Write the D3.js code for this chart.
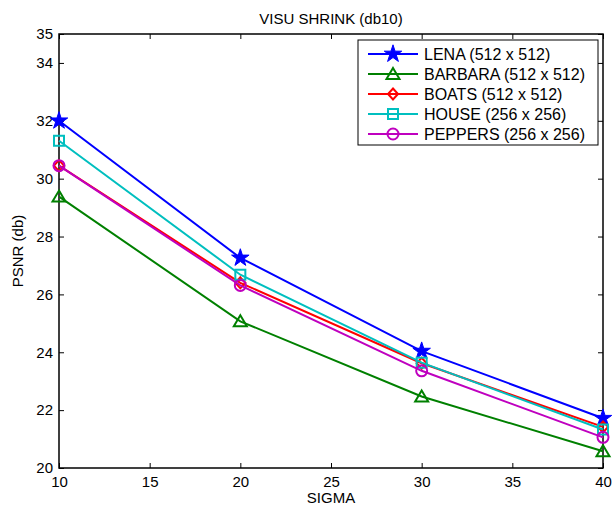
<!DOCTYPE html>
<html>
<head>
<meta charset="utf-8">
<script src="https://cdn.jsdelivr.net/npm/d3@7"></script>
<style>
  body { margin: 0; background: #fff; }
  svg { font-family: "Liberation Sans", Arial, sans-serif; }
</style>
</head>
<body>
<div id="chart"></div>
<script>
// data
const sigma = [10, 20, 30, 40];
const lena = [32.0, 27.26, 24.04, 21.72];
const barbara = [29.38, 25.07, 22.47, 20.58];
const boats = [30.45, 26.40, 23.62, 21.42];
const house = [31.31, 26.68, 23.64, 21.33];
const peppers = [30.45, 26.31, 23.36, 21.06];
const seriesNames = ["LENA (512 x 512)", "BARBARA (512 x 512)", "BOATS (512 x 512)", "HOUSE (256 x 256)", "PEPPERS (256 x 256)"];
const xTicks = [10, 15, 20, 25, 30, 35, 40];
const yTicks = [20, 22, 24, 26, 28, 30, 32, 34, 35];

const series = [
  { name: seriesNames[0], values: lena, color: "#0000ff", marker: "star" },
  { name: seriesNames[1], values: barbara, color: "#008000", marker: "triangle" },
  { name: seriesNames[2], values: boats, color: "#ff0000", marker: "diamond" },
  { name: seriesNames[3], values: house, color: "#00bfbf", marker: "square" },
  { name: seriesNames[4], values: peppers, color: "#bf00bf", marker: "circle" }
];

const width = 612, height = 506;
const plotLeft = 59, plotRight = 603, plotTop = 34, plotBottom = 468;
const fontSize = "15px";

const svg = d3.select("#chart").append("svg")
  .attr("width", width)
  .attr("height", height);

const x = d3.scaleLinear().domain([10, 40]).range([plotLeft, plotRight]);
const y = d3.scaleLinear().domain([20, 35]).range([plotBottom, plotTop]);

// inward ticks on all four sides, matlab style
const tickLen = 5;
svg.append("g")
  .attr("transform", "translate(0," + plotBottom + ")")
  .call(d3.axisBottom(x).tickValues(xTicks).tickSize(-tickLen).tickPadding(8).tickSizeOuter(0))
  .call(g => g.select(".domain").remove());
svg.append("g")
  .attr("transform", "translate(0," + plotTop + ")")
  .call(d3.axisTop(x).tickValues(xTicks).tickSize(-tickLen).tickFormat("").tickSizeOuter(0))
  .call(g => g.select(".domain").remove());
svg.append("g")
  .attr("transform", "translate(" + plotLeft + ",0)")
  .call(d3.axisLeft(y).tickValues(yTicks).tickSize(-tickLen).tickPadding(6).tickSizeOuter(0))
  .call(g => g.select(".domain").remove());
svg.append("g")
  .attr("transform", "translate(" + plotRight + ",0)")
  .call(d3.axisRight(y).tickValues(yTicks).tickSize(-tickLen).tickFormat("").tickSizeOuter(0))
  .call(g => g.select(".domain").remove());

svg.selectAll(".tick text").attr("font-size", fontSize).attr("fill", "#000")
  .style("font-family", "Liberation Sans, Arial, sans-serif");
svg.selectAll(".tick line").attr("stroke", "#000");

svg.append("rect")
  .attr("x", plotLeft).attr("y", plotTop)
  .attr("width", plotRight - plotLeft).attr("height", plotBottom - plotTop)
  .attr("fill", "none").attr("stroke", "#000").attr("stroke-width", 1.5);

const line = d3.line()
  .x((d, i) => x(sigma[i]))
  .y(d => y(d));

function drawMarker(g, type, color, cx, cy) {
  if (type === "star") {
    g.append("path")
      .attr("d", d3.symbol().type(d3.symbolStar).size(95)())
      .attr("transform", "translate(" + cx + "," + cy + ")")
      .attr("fill", color).attr("stroke", color).attr("stroke-width", 1);
  } else if (type === "triangle") {
    g.append("path")
      .attr("d", "M0,-6L6.5,5L-6.5,5Z")
      .attr("transform", "translate(" + cx + "," + cy + ")")
      .attr("fill", "none").attr("stroke", color).attr("stroke-width", 2);
  } else if (type === "diamond") {
    g.append("path")
      .attr("d", "M0,-5.5L5,0L0,5.5L-5,0Z")
      .attr("transform", "translate(" + cx + "," + cy + ")")
      .attr("fill", "none").attr("stroke", color).attr("stroke-width", 2);
  } else if (type === "square") {
    g.append("rect")
      .attr("x", cx - 5).attr("y", cy - 5)
      .attr("width", 10).attr("height", 10)
      .attr("fill", "none").attr("stroke", color).attr("stroke-width", 2);
  } else {
    g.append("circle")
      .attr("cx", cx).attr("cy", cy).attr("r", 5.5)
      .attr("fill", "none").attr("stroke", color).attr("stroke-width", 2);
  }
}

const plot = svg.append("g");
series.forEach(s => {
  plot.append("path")
    .datum(s.values)
    .attr("d", line)
    .attr("fill", "none")
    .attr("stroke", s.color)
    .attr("stroke-width", 2);
  s.values.forEach((v, i) => drawMarker(plot, s.marker, s.color, x(sigma[i]), y(v)));
});

// title and axis labels
svg.append("text")
  .attr("x", (plotLeft + plotRight) / 2).attr("y", 24)
  .attr("text-anchor", "middle").attr("font-size", fontSize)
  .text("VISU SHRINK (db10)");
svg.append("text")
  .attr("x", (plotLeft + plotRight) / 2).attr("y", 503)
  .attr("text-anchor", "middle").attr("font-size", fontSize)
  .text("SIGMA");
svg.append("text")
  .attr("transform", "rotate(-90)")
  .attr("x", -(plotTop + plotBottom) / 2).attr("y", 23)
  .attr("text-anchor", "middle").attr("font-size", fontSize)
  .text("PSNR (db)");

// legend
const legend = svg.append("g");
legend.append("rect")
  .attr("x", 358).attr("y", 40)
  .attr("width", 240).attr("height", 105)
  .attr("fill", "#fff").attr("stroke", "#000").attr("stroke-width", 1);
series.forEach((s, i) => {
  const ly = 54 + i * 20;
  legend.append("line")
    .attr("x1", 368).attr("x2", 418)
    .attr("y1", ly).attr("y2", ly)
    .attr("stroke", s.color).attr("stroke-width", 2);
  drawMarker(legend, s.marker, s.color, 393, ly);
  legend.append("text")
    .attr("x", 424).attr("y", ly + 6)
    .attr("font-size", "16px")
    .text(s.name);
});
</script>
</body>
</html>
